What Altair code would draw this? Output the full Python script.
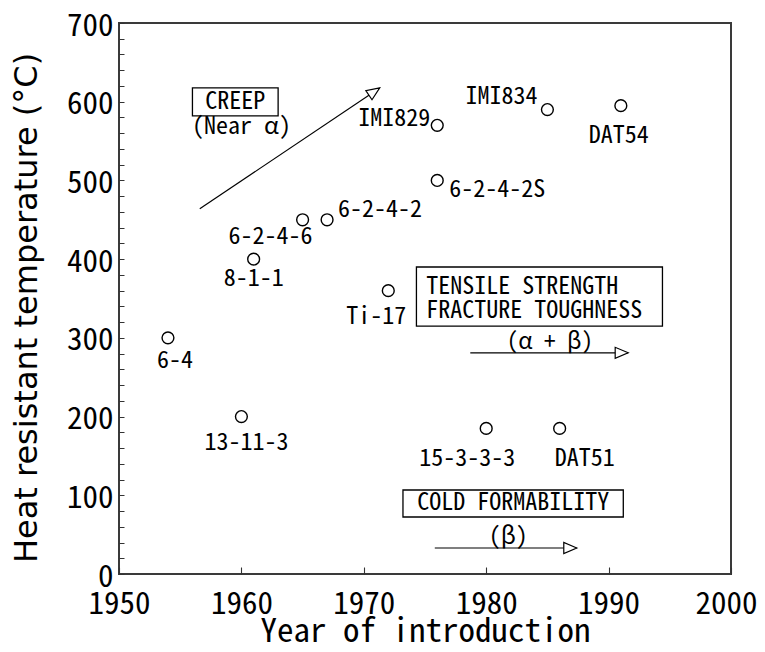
import math
import altair as alt
import pandas as pd

# ---- data ----
alloys = ["6-4", "13-11-3", "8-1-1", "6-2-4-6", "6-2-4-2", "Ti-17",
          "IMI829", "6-2-4-2S", "IMI834", "DAT54", "15-3-3-3", "DAT51"]
years = [1954, 1960, 1961, 1965, 1967, 1972, 1976, 1976, 1985, 1991, 1980, 1986]
temps = [300, 200, 400, 450, 450, 360, 570, 500, 590, 595, 185, 185]

x_ticks = [1950, 1960, 1970, 1980, 1990, 2000]
y_ticks = list(range(0, 701, 20))

# annotation boxes (data units)
box_x = [1956.0, 1974.3, 1973.2]
box_x2 = [1963.0, 1994.4, 1991.2]
box_y = [617.5, 390.0, 106.7]
box_y2 = [582.0, 315.0, 72.4]

# arrows (data units): start -> tip
arr_x = [1956.6, 1978.7, 1975.8]
arr_y = [464.0, 281.0, 33.0]
arr_x2 = [1971.3, 1991.6, 1987.4]
arr_y2 = [617.5, 281.0, 33.0]

# annotation texts
ann_text = ["CREEP", "(Near α)", "(α + β)", "COLD FORMABILITY", "(β)"]
ann_x = [1959.5, 1960.0, 1985.2, 1982.2, 1981.8]
ann_y = [600.0, 568.0, 295.0, 90.0, 47.0]
ann_size = [24, 24, 23, 24, 24]
box_lines = ["TENSILE STRENGTH", "FRACTURE TOUGHNESS"]
box_lines_x = [1975.1, 1975.1]
box_lines_y = [364.5, 334.0]

W, H = 612, 551
MONO = "Noto Sans Mono CJK JP, MS Gothic, Liberation Mono, monospace"

xs = alt.Scale(domain=[1950, 2000], nice=False, zero=False)
ys = alt.Scale(domain=[0, 700], nice=False)

pts = pd.DataFrame({"alloy": alloys, "year": years, "temp": temps})

base = alt.Chart(pts)
points = base.mark_point(shape="circle", size=140, filled=False,
                         stroke="black", strokeWidth=1.4, opacity=1).encode(
    x=alt.X("year:Q", scale=xs,
            axis=alt.Axis(title="Year of introduction", values=x_ticks,
                          tickCount=10,
                          format="d", tickSize=7, offset=-7, domain=False,
                          grid=False, labelPadding=15, labelFlush=False,
                          labelOffset=alt.condition("datum.value == 2000",
                                                    alt.value(-5), alt.value(0)),
                          labelOverlap=False, labelFont=MONO, labelFontSize=31,
                          labelColor="black", tickColor="#333", tickWidth=1.1,
                          titleFont=MONO, titleFontSize=33,
                          titleFontWeight="normal", titleColor="black",
                          titlePadding=-4)),
    y=alt.Y("temp:Q", scale=ys,
            axis=alt.Axis(title="Heat resistant temperature (°C)", values=y_ticks,
                          tickCount=40,
                          labelExpr="datum.value % 100 == 0 ? datum.label : ''",
                          tickSize=5, offset=-5, domain=False, grid=False,
                          labelPadding=6, labelFlush=False, labelOverlap=False,
                          labelOffset=3,
                          labelFont=MONO, labelFontSize=31, labelColor="black",
                          tickColor="#333", tickWidth=1.0,
                          titleFont="DejaVu Sans", titleFontSize=32,
                          titleFontWeight="normal", titleColor="black",
                          titlePadding=23, titleY=H / 2 + 9)),
)

# per-label offsets (styling)
label_style = {
    "6-4": (7, 23, "center"),
    "13-11-3": (5, 26, "center"),
    "8-1-1": (0, 20, "center"),
    "6-2-4-6": (-32, 17, "center"),
    "6-2-4-2": (11, -10, "left"),
    "Ti-17": (-12, 26, "center"),
    "IMI829": (-7, -6, "right"),
    "6-2-4-2S": (12, 10, "left"),
    "IMI834": (-10, -13, "right"),
    "DAT54": (-2, 30, "center"),
    "15-3-3-3": (-19, 31, "center"),
    "DAT51": (25, 31, "center"),
}
label_layers = []
for name in alloys:
    dx, dy, al = label_style[name]
    label_layers.append(
        base.transform_filter(alt.datum.alloy == name).mark_text(
            font=MONO, fontSize=24, color="black", dx=dx, dy=dy, align=al,
            baseline="middle").encode(
            x=alt.X("year:Q", scale=xs), y=alt.Y("temp:Q", scale=ys),
            text="alloy:N"))

boxes = alt.Chart(pd.DataFrame({"x": box_x, "x2": box_x2, "y": box_y, "y2": box_y2})).mark_rect(
    fillOpacity=0, stroke="black", strokeWidth=1.3).encode(
    x=alt.X("x:Q", scale=xs), x2="x2:Q", y=alt.Y("y:Q", scale=ys), y2="y2:Q")

arrows_df = pd.DataFrame({"x": arr_x, "y": arr_y, "x2": arr_x2, "y2": arr_y2})
# rotation of each head from the drawn direction on screen
px_per_x = W / 50.0
px_per_y = H / 700.0
angles = []
for a, b, c, d in zip(arr_x, arr_y, arr_x2, arr_y2):
    ang = -math.degrees(math.atan2((d - b) * px_per_y, (c - a) * px_per_x))
    angles.append(ang % 360)
arrows_df["angle"] = angles

arrow_lines = alt.Chart(arrows_df).mark_rule(color="black", strokeWidth=1.2).encode(
    x=alt.X("x:Q", scale=xs), y=alt.Y("y:Q", scale=ys), x2="x2:Q", y2="y2:Q")
head_path = "M0,0 L-2,-0.85 L-2,0.85 Z"
arrow_heads = alt.Chart(arrows_df).mark_point(
    shape=head_path, size=169, filled=True, fill="white", stroke="black",
    strokeWidth=1.2, opacity=1).encode(
    x=alt.X("x2:Q", scale=xs), y=alt.Y("y2:Q", scale=ys),
    angle=alt.Angle("angle:Q", scale=None))

ann = alt.Chart(pd.DataFrame({"t": ann_text, "x": ann_x, "y": ann_y, "s": ann_size})).mark_text(
    font=MONO, color="black", baseline="middle").encode(
    x=alt.X("x:Q", scale=xs), y=alt.Y("y:Q", scale=ys), text="t:N",
    size=alt.Size("s:Q", scale=None))
box_txt = alt.Chart(pd.DataFrame({"t": box_lines, "x": box_lines_x, "y": box_lines_y})).mark_text(
    font=MONO, fontSize=24, color="black", baseline="middle", align="left").encode(
    x=alt.X("x:Q", scale=xs), y=alt.Y("y:Q", scale=ys), text="t:N")

chart = alt.layer(points, *label_layers, boxes, arrow_lines, arrow_heads, ann, box_txt).properties(
    width=W, height=H,
    autosize=alt.AutoSizeParams(type="none"),
    padding={"left": 111, "top": 15, "right": 26, "bottom": 70},
).configure(background="white").configure_view(stroke="#3a3a3a", strokeWidth=2)

chart.save("out.html", embed_options={"renderer": "svg", "actions": False})
